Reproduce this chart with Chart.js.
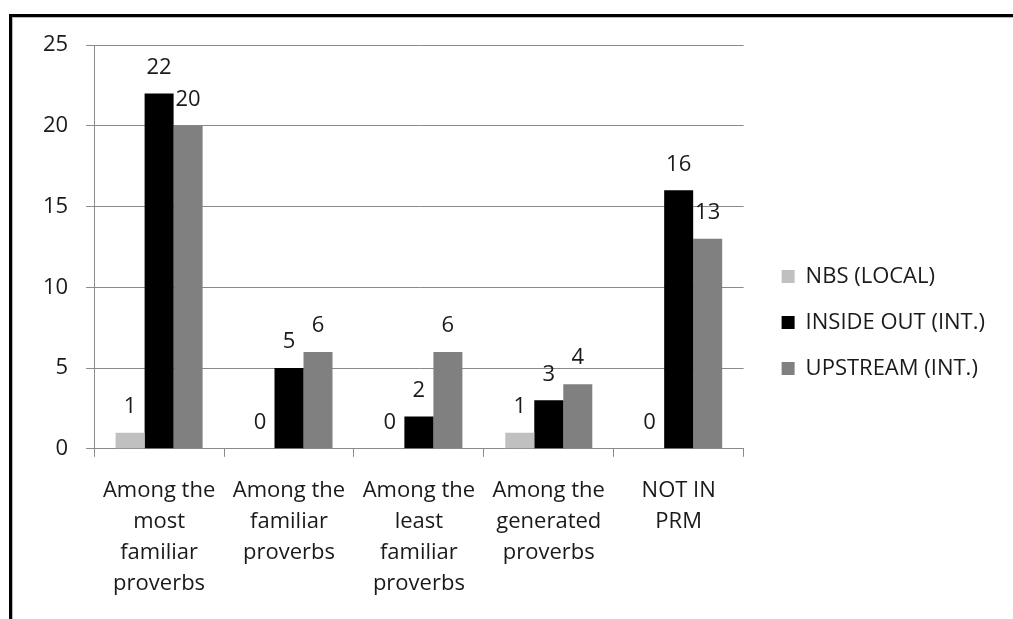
<!DOCTYPE html>
<html>
<head>
<meta charset="utf-8">
<script src="https://cdn.jsdelivr.net/npm/chart.js@4.4.1/dist/chart.umd.min.js"></script>
<style>
  html, body { margin: 0; padding: 0; background: #fff; }
  #wrap { position: relative; width: 1013px; height: 619px; overflow: hidden; }
  #frame {
    position: absolute; left: 9px; top: 14px; width: 1100px; height: 700px;
    border-left: 3px solid #000; border-top: 3px solid #000;
    box-shadow: inset 1px 1px 0 #b8b8b8;
  }
  #c { position: absolute; left: 0; top: 0; }
</style>
</head>
<body>
<div id="wrap">
  <div id="frame"></div>
  <canvas id="c" width="1013" height="619"></canvas>
</div>
<script>
// Categories (multi-line labels under the x axis)
const categories = [
  ["Among the", "most", "familiar", "proverbs"],
  ["Among the", "familiar", "proverbs"],
  ["Among the", "least", "familiar", "proverbs"],
  ["Among the", "generated", "proverbs"],
  ["NOT IN", "PRM"]
];

// Series values
const nbsLocal = [1, 0, 0, 1, 0];
const insideOutInt = [22, 5, 2, 3, 16];
const upstreamInt = [20, 6, 6, 4, 13];

// Y axis ticks
const yTicks = [0, 5, 10, 15, 20, 25];

const FONT = "'Open Sans', sans-serif";
const TEXT = '#1a1a1a';
const GRID = '#8a8a8a';

// Value labels above each bar
const valueLabels = {
  id: 'valueLabels',
  afterDatasetsDraw(chart) {
    const ctx = chart.ctx;
    ctx.save();
    ctx.font = "22px " + FONT;
    ctx.fillStyle = TEXT;
    ctx.textAlign = 'center';
    ctx.textBaseline = 'middle';
    chart.data.datasets.forEach((ds, i) => {
      const meta = chart.getDatasetMeta(i);
      meta.data.forEach((el, j) => {
        ctx.fillText(String(ds.data[j]), el.x, el.y - 26);
      });
    });
    ctx.restore();
  }
};

// Leave a wider gap between the plot and the legend column
const legendGap = {
  id: 'legendGap',
  afterLayout(chart) {
    const lg = chart.legend;
    if (!lg) return;
    lg.left += 14; lg.right += 14;
    lg.top -= 9; lg.bottom -= 9;
  }
};

new Chart(document.getElementById('c'), {
  type: 'bar',
  data: {
    labels: categories,
    datasets: [
      { label: 'NBS (LOCAL)', data: nbsLocal, backgroundColor: '#c0c0c0' },
      { label: 'INSIDE OUT (INT.)', data: insideOutInt, backgroundColor: '#000000' },
      { label: 'UPSTREAM (INT.)', data: upstreamInt, backgroundColor: '#808080' }
    ]
  },
  options: {
    responsive: false,
    animation: false,
    devicePixelRatio: 1,
    layout: { padding: { left: 25, top: 45, right: 32, bottom: 1 } },
    datasets: {
      bar: { categoryPercentage: 0.67, barPercentage: 1.0, borderWidth: 0 }
    },
    plugins: {
      tooltip: { enabled: false },
      legend: {
        position: 'right',
        align: 'center',
        labels: {
          font: { family: FONT, size: 22 },
          color: TEXT,
          boxWidth: 13,
          boxHeight: 13,
          padding: 24
        }
      }
    },
    scales: {
      x: {
        offset: true,
        grid: {
          offset: true,
          drawOnChartArea: false,
          drawTicks: true,
          tickLength: 8,
          color: GRID
        },
        border: { color: GRID },
        ticks: {
          font: { family: FONT, size: 22, lineHeight: 1.4 },
          color: TEXT,
          maxRotation: 0,
          autoSkip: false,
          padding: 19
        }
      },
      y: {
        min: 0,
        max: 25,
        afterBuildTicks(axis) { axis.ticks = yTicks.map(v => ({ value: v })); },
        grid: { color: GRID, tickLength: 8 },
        border: { color: GRID },
        ticks: {
          font: { family: FONT, size: 22 },
          color: TEXT,
          padding: 18
        }
      }
    }
  },
  plugins: [valueLabels, legendGap]
});
</script>
</body>
</html>
